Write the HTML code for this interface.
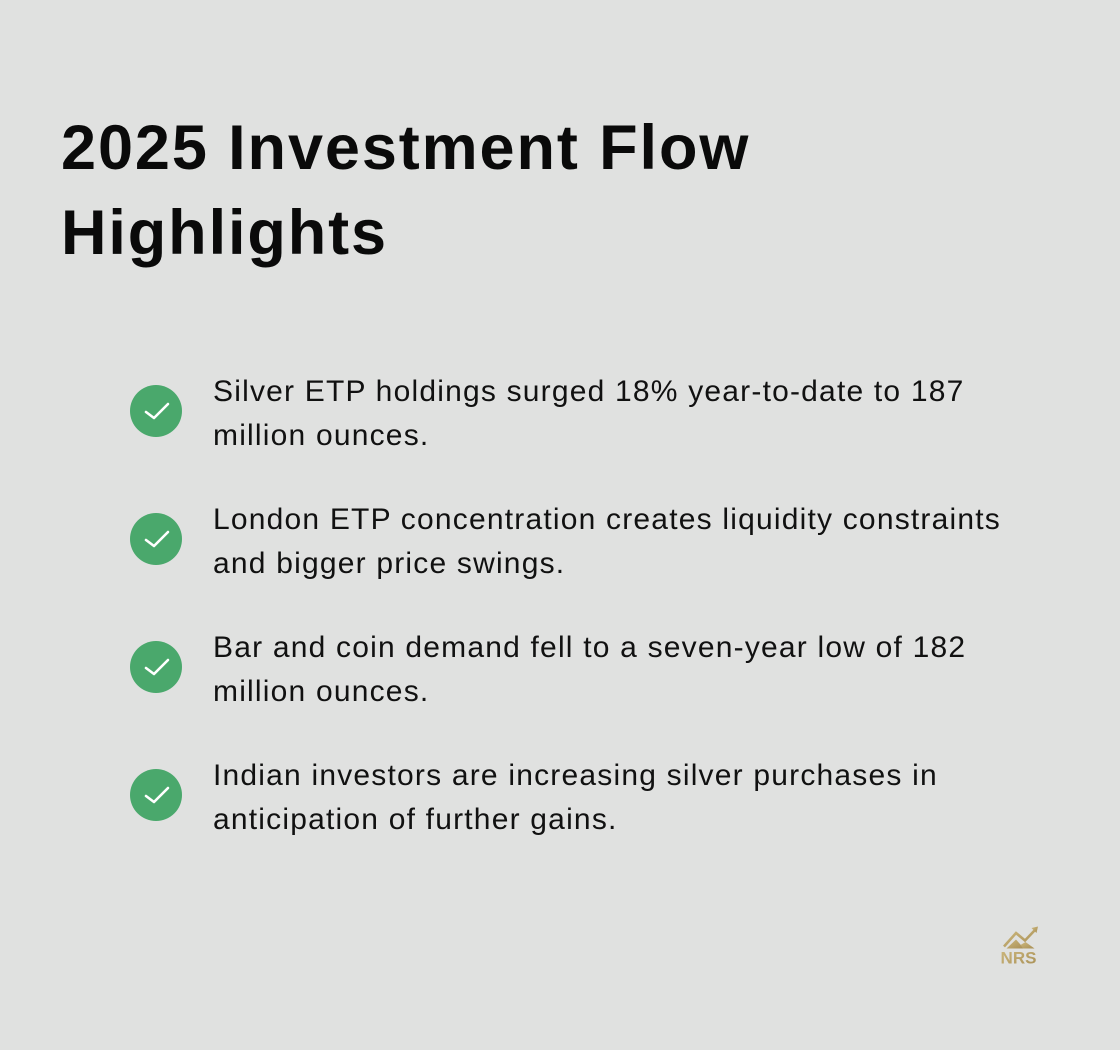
<!DOCTYPE html>
<html>
<head>
<meta charset="utf-8">
<style>
  html, body { margin:0; padding:0; }
  body {
    width:1120px; height:1050px; background:#e0e1e0; position:relative; overflow:hidden;
    font-family:"Liberation Sans", Arial, sans-serif; color:#111;
  }
  .title {
    position:absolute; left:61px; top:106px;
    font-size:63px; font-weight:bold; line-height:85px;
    letter-spacing:1.9px; white-space:nowrap; color:#0a0a0a;
  }
  .item {
    position:absolute; left:213px;
    font-size:30px; line-height:43.5px; letter-spacing:1.2px; white-space:nowrap; color:#111;
  }
  .check { position:absolute; left:130px; width:52px; height:52px; }
</style>
</head>
<body>
  <div class="title">2025 Investment Flow<br>Highlights</div>

  <svg class="check" style="top:385px" viewBox="0 0 52 52"><circle cx="26" cy="26" r="26" fill="#4aa86c"/><polyline points="16,27 24,33 38,19" fill="none" stroke="#fff" stroke-width="2.6" stroke-linecap="round" stroke-linejoin="round"/></svg>
  <div class="item" style="top:370px">Silver ETP holdings surged 18% year-to-date to 187<br>million ounces.</div>

  <svg class="check" style="top:513px" viewBox="0 0 52 52"><circle cx="26" cy="26" r="26" fill="#4aa86c"/><polyline points="16,27 24,33 38,19" fill="none" stroke="#fff" stroke-width="2.6" stroke-linecap="round" stroke-linejoin="round"/></svg>
  <div class="item" style="top:498px">London ETP concentration creates liquidity constraints<br>and bigger price swings.</div>

  <svg class="check" style="top:641px" viewBox="0 0 52 52"><circle cx="26" cy="26" r="26" fill="#4aa86c"/><polyline points="16,27 24,33 38,19" fill="none" stroke="#fff" stroke-width="2.6" stroke-linecap="round" stroke-linejoin="round"/></svg>
  <div class="item" style="top:626px">Bar and coin demand fell to a seven-year low of 182<br>million ounces.</div>

  <svg class="check" style="top:769px" viewBox="0 0 52 52"><circle cx="26" cy="26" r="26" fill="#4aa86c"/><polyline points="16,27 24,33 38,19" fill="none" stroke="#fff" stroke-width="2.6" stroke-linecap="round" stroke-linejoin="round"/></svg>
  <div class="item" style="top:754px">Indian investors are increasing silver purchases in<br>anticipation of further gains.</div>

  <svg style="position:absolute; left:990px; top:920px" width="60" height="50" viewBox="990 920 60 50">
    <defs>
      <linearGradient id="g" x1="0" y1="0" x2="1" y2="1">
        <stop offset="0" stop-color="#cdb87e"/>
        <stop offset="1" stop-color="#a88f55"/>
      </linearGradient>
    </defs>
    <polyline points="1004,946.5 1016,933 1025,940.5 1034.5,930.5" fill="none" stroke="url(#g)" stroke-width="2.6" stroke-linejoin="miter"/>
    <polygon points="1031.5,928 1038,926.5 1036.5,933" fill="url(#g)"/>
    <polygon points="1006.5,948.5 1016,939.5 1024,948.5" fill="url(#g)"/>
    <polygon points="1020.5,945 1025.5,942 1034.5,948.5 1023,948.5" fill="url(#g)"/>
    <text x="1018.5" y="963.5" text-anchor="middle" font-family="Liberation Sans, Arial, sans-serif" font-weight="bold" font-size="17" fill="url(#g)">NRS</text>
  </svg>
</body>
</html>
